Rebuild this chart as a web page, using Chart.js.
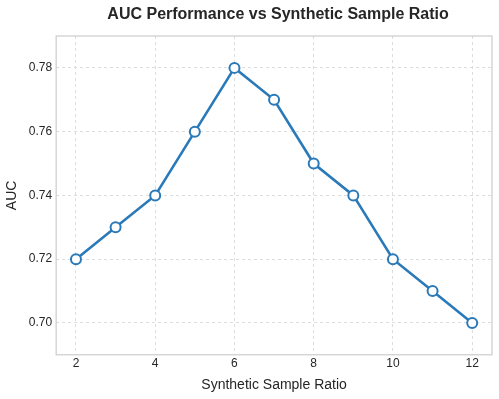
<!DOCTYPE html>
<html><head><meta charset="utf-8">
<script src="https://cdn.jsdelivr.net/npm/chart.js@4/dist/chart.umd.min.js"></script>
<style>html,body{margin:0;padding:0;background:#fff}#wrap{width:499px;height:399px}</style>
</head><body><div id="wrap"><canvas id="c" width="499" height="399"></canvas></div>
<script>
const ratios = [2, 3, 4, 5, 6, 7, 8, 9, 10, 11, 12];
const aucValues = [0.72, 0.73, 0.74, 0.76, 0.78, 0.77, 0.75, 0.74, 0.72, 0.71, 0.70];
const xTicks = [2, 4, 6, 8, 10, 12];
const yTicks = [0.70, 0.72, 0.74, 0.76, 0.78];
const chartTitle = 'AUC Performance vs Synthetic Sample Ratio';

const FONT = "'Liberation Sans', Arial, Helvetica, sans-serif";
const frame = {
  id: 'frame',
  afterDraw(chart) {
    const a = chart.chartArea, ctx = chart.ctx;
    ctx.save();
    ctx.strokeStyle = '#cccccc';
    ctx.lineWidth = 1.2;
    ctx.strokeRect(a.left, a.top, a.right - a.left, a.bottom - a.top);
    ctx.fillStyle = '#262626';
    ctx.font = 'bold 16px ' + FONT;
    ctx.textAlign = 'center';
    ctx.textBaseline = 'middle';
    ctx.fillText(chartTitle, (a.left + a.right) / 2 + 4, 15);
    ctx.restore();
  }
};

new Chart(document.getElementById('c'), {
  type: 'line',
  data: {
    datasets: [{
      data: ratios.map((r, i) => ({x: r, y: aucValues[i]})),
      borderColor: '#2a7ab9',
      borderWidth: 2.6,
      pointRadius: 5,
      pointBorderWidth: 2,
      pointBackgroundColor: '#ffffff',
      pointBorderColor: '#2a7ab9',
      tension: 0,
      fill: false
    }]
  },
  plugins: [frame],
  options: {
    responsive: false,
    animation: false,
    layout: {padding: {left: 2, right: 7, top: 36, bottom: 1}},
    plugins: {
      legend: {display: false},
      tooltip: {enabled: false},
      title: {display: false}
    },
    scales: {
      x: {
        type: 'linear',
        min: 1.5, max: 12.5,
        afterBuildTicks: s => { s.ticks = xTicks.map(v => ({value: v})); },
        ticks: {color: '#262626', font: {family: FONT, size: 12}, padding: 2},
        grid: {color: '#dddddd', drawTicks: false},
        border: {display: false, dash: [3, 3]},
        title: {display: true, text: 'Synthetic Sample Ratio', color: '#262626', font: {family: FONT, size: 14}, padding: {top: 4, bottom: 4}}
      },
      y: {
        min: 0.69, max: 0.79,
        afterBuildTicks: s => { s.ticks = yTicks.map(v => ({value: v})); },
        ticks: {color: '#262626', font: {family: FONT, size: 12}, padding: 4, callback: v => v.toFixed(2)},
        grid: {color: '#dddddd', drawTicks: false},
        border: {display: false, dash: [3, 3]},
        title: {display: true, text: 'AUC', color: '#262626', font: {family: FONT, size: 14}, padding: {top: 2, bottom: 4}}
      }
    }
  }
});
</script></body></html>
